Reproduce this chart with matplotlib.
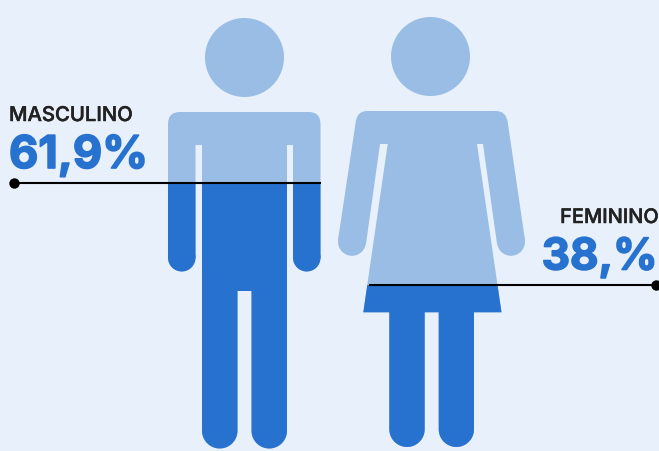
import matplotlib
matplotlib.use('Agg')
import matplotlib.pyplot as plt
import matplotlib.patheffects as pe
from matplotlib.patches import Circle, PathPatch, Rectangle
from matplotlib.path import Path
import numpy as np

# data
labels = ['MASCULINO', 'FEMININO']
shares = [61.9, 38.0]
share_labels = ['61,9%', '38,%']

BG = '#E8F1FB'
LIGHT = '#9ABDE6'
DARK = '#2771CF'


def leg(x0, x1, top, bottom):
    # rectangle with a round end at the bottom
    r = (x1 - x0) / 2
    t = np.linspace(np.pi, 0, 30)
    xs = [x0] + list((x0 + x1) / 2 + r * np.cos(t)) + [x1]
    ys = [top] + list(bottom - r + r * np.sin(t)) + [top]
    return Path(np.column_stack([xs, ys]))


def male_parts():
    body = Path(
        [(180, 112), (308.5, 112), (320.5, 112), (320.5, 124), (320.5, 258), (293, 258),
         (293, 145), (287, 145), (287, 291), (202, 291), (202, 145), (195.5, 145),
         (195.5, 258), (168, 258), (168, 124), (168, 112), (180, 112)],
        [Path.MOVETO, Path.LINETO, Path.CURVE3, Path.CURVE3] + [Path.LINETO] * 11
        + [Path.CURVE3, Path.CURVE3])
    paths = [body, leg(202, 237.5, 280, 448.5), leg(251.5, 287, 280, 448.5)]
    circles = [(244.5, 57.5, 39.5), (181.75, 257.75, 13.75), (306.75, 257.75, 13.75)]
    return paths, circles


def female_parts():
    body = Path(
        [(367, 111), (496, 111), (506, 111), (507.7, 122), (525, 240), (497, 244),
         (483, 144), (477, 144), (501.5, 312.3), (363.3, 312.3), (387.7, 144), (380, 144),
         (366, 244), (338, 240), (355.7, 122), (357, 111), (367, 111)],
        [Path.MOVETO, Path.LINETO, Path.CURVE3, Path.CURVE3] + [Path.LINETO] * 11
        + [Path.CURVE3, Path.CURVE3])
    paths = [body, leg(389.3, 424.7, 300, 447), leg(438.7, 474, 300, 447)]
    circles = [(430.5, 56.5, 39.5), (352, 241.8, 14), (511, 241.8, 14)]
    return paths, circles


def draw_person(ax, parts, level):
    paths, circles = parts
    for color, clip in [(LIGHT, None), (DARK, level)]:
        shapes = [PathPatch(p) for p in paths] + [Circle(c[:2], c[2]) for c in circles]
        for s in shapes:
            s.set(facecolor=color, edgecolor='none', linewidth=0)
            ax.add_patch(s)
            if clip is not None:
                box = Rectangle((0, clip), 659, 451 - clip, transform=ax.transData)
                s.set_clip_path(box)


fig = plt.figure(figsize=(6.59, 4.51), dpi=100, facecolor=BG)
ax = fig.add_axes([0, 0, 1, 1])
ax.set_xlim(0, 659)
ax.set_ylim(451, 0)
ax.axis('off')

# fill level comes from the share, figure about 432 px tall
level_m = 450.5 - shares[0] / 100 * 432
level_f = 449.5 - shares[1] / 100 * 432

draw_person(ax, male_parts(), level_m)
draw_person(ax, female_parts(), level_f)

# guide lines
ax.plot([14, 320.5], [level_m, level_m], color='black', lw=1.5, solid_capstyle='butt')
ax.plot([368.5, 656], [level_f, level_f], color='black', lw=1.5, solid_capstyle='butt')
ax.plot([14], [level_m], 'o', color='black', ms=7.5, mew=0, clip_on=False)
ax.plot([656], [level_f], 'o', color='black', ms=7.5, mew=0, clip_on=False)

# texts
thin = [pe.withStroke(linewidth=0.35, foreground='#222222')]
ax.text(9, 121, labels[0], family='Inter', fontsize=14.6, fontweight='medium', color='#222222',
        path_effects=thin)
ax.text(658.5, 223, labels[1], family='Inter', fontsize=14.4, fontweight='medium', color='#222222',
        ha='right', path_effects=thin)
bold = [pe.withStroke(linewidth=1.2, foreground=DARK)]
ax.text(9, 168, share_labels[0], family='Inter', fontsize=32.5, fontweight='bold', color=DARK,
        path_effects=bold)
ax.text(657.5, 269.5, share_labels[1], family='Inter', fontsize=31.5, fontweight='bold', color=DARK,
        ha='right', path_effects=bold)

fig.savefig('out.png', dpi=100, facecolor=BG)
